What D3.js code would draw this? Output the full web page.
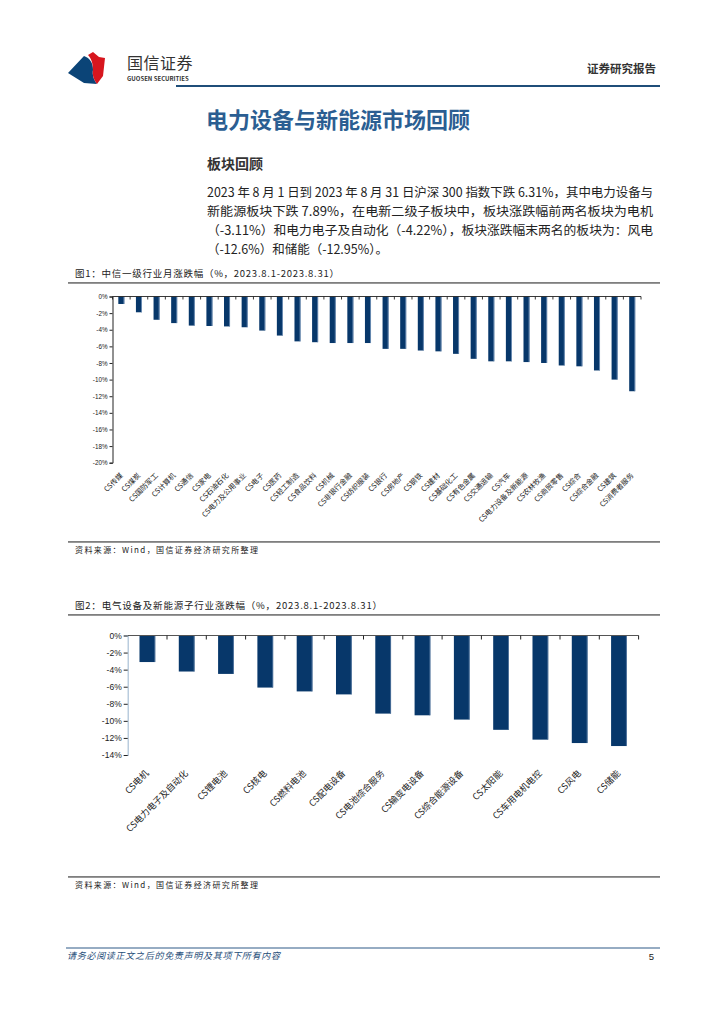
<!DOCTYPE html>
<html><head><meta charset="utf-8">
<script src="https://cdn.jsdelivr.net/npm/d3@7/dist/d3.min.js"></script>
<style>
html,body{margin:0;padding:0;background:#fff;}
svg{display:block;font-family:"Noto Sans CJK SC","Noto Sans",sans-serif;}
</style></head>
<body>
<svg id="c" width="724" height="1024"></svg>
<script>
// ---- data ----
const cat1 = ["CS传媒","CS煤炭","CS国防军工","CS计算机","CS通信","CS家电","CS石油石化","CS电力及公用事业","CS电子","CS医药","CS轻工制造","CS食品饮料","CS机械","CS非银行金融","CS纺织服装","CS银行","CS房地产","CS钢铁","CS建材","CS基础化工","CS有色金属","CS交通运输","CS汽车","CS电力设备及新能源","CS农林牧渔","CS商贸零售","CS综合","CS综合金融","CS建筑","CS消费者服务"];
const val1 = [-0.9,-1.9,-2.8,-3.2,-3.5,-3.55,-3.6,-3.7,-4.1,-4.7,-5.4,-5.5,-5.6,-5.6,-5.6,-6.3,-6.3,-6.5,-6.6,-6.9,-7.5,-7.8,-7.8,-7.89,-8.0,-8.3,-8.4,-8.9,-10.0,-11.4];
const yTicks1 = [0,-2,-4,-6,-8,-10,-12,-14,-16,-18,-20];

const cat2 = ["CS电机","CS电力电子及自动化","CS锂电池","CS核电","CS燃料电池","CS配电设备","CS电池综合服务","CS输变电设备","CS综合能源设备","CS太阳能","CS车用电机电控","CS风电","CS储能"];
const val2 = [-3.11,-4.22,-4.5,-6.1,-6.55,-6.9,-9.15,-9.35,-9.85,-11.05,-12.2,-12.6,-12.95];
const yTicks2 = [0,-2,-4,-6,-8,-10,-12,-14];

const paragraph = [
  "2023 年 8 月 1 日到 2023 年 8 月 31 日沪深 300 指数下跌 6.31%，其中电力设备与",
  "新能源板块下跌 7.89%，在电新二级子板块中，板块涨跌幅前两名板块为电机",
  "（-3.11%）和电力电子及自动化（-4.22%），板块涨跌幅末两名的板块为：风电",
  "（-12.6%）和储能（-12.95%）。"
];

const svg = d3.select("#c");
const BAR = "#07376a";

// ---- header ----
svg.append("path").attr("d","M68,73 L84,56 C90,58 93,63 93,70 C92,75 94,80 97,84 L84,83 Z").attr("fill","#0b4477");
svg.append("path").attr("d","M88,55 L93,52 L99,57 L105,58 L103,76 L97,84 C94,80 92,75 93,70 C93,63 91,58 88,55 Z").attr("fill","#d7161e");
svg.append("text").attr("x",127).attr("y",69).attr("font-size",16).attr("fill","#333").attr("letter-spacing",0.5).text("国信证券");
svg.append("text").attr("x",127).attr("y",81).attr("font-size",6).attr("font-weight","bold").attr("fill","#333").text("GUOSEN SECURITIES");
svg.append("rect").attr("x",176).attr("y",85).attr("width",484).attr("height",2).attr("fill","#1f4e79");
svg.append("text").attr("x",656).attr("y",73).attr("text-anchor","end").attr("font-size",11.5).attr("font-weight","bold").attr("fill","#333").text("证券研究报告");

// ---- titles & paragraph ----
svg.append("text").attr("x",206).attr("y",128).attr("font-size",22).attr("font-weight","bold").attr("fill","#2b5e92").text("电力设备与新能源市场回顾");
svg.append("text").attr("x",207).attr("y",169).attr("font-size",14).attr("font-weight","bold").attr("fill","#333").text("板块回顾");
paragraph.forEach((t,i)=>{
  const tx = svg.append("text").attr("x",207).attr("y",197+i*19).attr("font-size",12.5).attr("fill","#222").text(t);
  if(i<3) tx.attr("textLength",446).attr("lengthAdjust","spacingAndGlyphs");
});

// ---- chart frame helper ----
function frame(title, titleLen, yTitle, yLine, ySrcLine){
  svg.append("text").attr("x",75).attr("y",yTitle).attr("font-size",9.5).attr("fill","#222")
    .attr("textLength",titleLen).attr("lengthAdjust","spacing").text(title);
  svg.append("rect").attr("x",68).attr("y",yLine).attr("width",592).attr("height",1.8).attr("fill","#7f7f7f");
  svg.append("rect").attr("x",68).attr("y",ySrcLine).attr("width",592).attr("height",1.8).attr("fill","#7f7f7f");
  svg.append("text").attr("x",75).attr("y",ySrcLine+12).attr("font-size",8).attr("fill","#222")
    .attr("textLength",183).attr("lengthAdjust","spacing").text("资料来源：Wind，国信证券经济研究所整理");
}

// ---- chart 1 ----
frame("图1：中信一级行业月涨跌幅（%，2023.8.1-2023.8.31）", 264, 277, 282, 541);
{
  const x = d3.scaleBand().domain(cat1).range([112.5,641]).paddingInner(0.66).paddingOuter(0.33);
  const y = d3.scaleLinear().domain([0,-20]).range([296.5,462.7]);
  const g = svg.append("g");
  g.selectAll("rect.b").data(cat1).join("rect").attr("class","b")
    .attr("x",d=>x(d)).attr("width",x.bandwidth())
    .attr("y",y(0)).attr("height",(d,i)=>y(val1[i])-y(0)).attr("fill",BAR);
  g.selectAll("line.e").data(cat1).join("line").attr("class","e")
    .attr("x1",d=>x(d)+x.bandwidth()-0.4).attr("x2",d=>x(d)+x.bandwidth()-0.4)
    .attr("y1",y(0)).attr("y2",(d,i)=>y(val1[i])).attr("stroke","#7d9cc0").attr("stroke-width",0.8);
  const ya = g.append("g").attr("transform","translate(112.5,0)")
    .call(d3.axisLeft(y).tickValues(yTicks1).tickFormat(d=>d+"%").tickSize(3).tickPadding(2));
  ya.select(".domain").attr("stroke","#222");
  ya.selectAll(".tick line").attr("stroke","#222");
  ya.selectAll("text").attr("font-size",6.3).attr("fill","#222").attr("font-family","Liberation Sans, Arial");
  const x0 = x.range()[0], st = x.step();
  g.append("line").attr("x1",x0).attr("x2",x0+st*cat1.length).attr("y1",y(0)).attr("y2",y(0)).attr("stroke","#222").attr("stroke-width",0.9);
  g.selectAll("line.t").data(d3.range(cat1.length+1)).join("line").attr("class","t")
    .attr("x1",i=>x0+i*st).attr("x2",i=>x0+i*st).attr("y1",y(0)).attr("y2",y(0)+3).attr("stroke","#222").attr("stroke-width",0.9);
  g.selectAll("text.xl").data(cat1).join("text").attr("class","xl")
    .attr("transform",d=>`translate(${x(d)+x.bandwidth()/2+2},476) rotate(-45)`)
    .attr("text-anchor","end").attr("font-size",7.2).attr("fill","#222").text(d=>d);
}

// ---- chart 2 ----
frame("图2：电气设备及新能源子行业涨跌幅（%，2023.8.1-2023.8.31）", 307, 609, 614, 876);
{
  const x = d3.scaleBand().domain(cat2).range([127.7,638.6]).paddingInner(0.6).paddingOuter(0.3);
  const y = d3.scaleLinear().domain([0,-14]).range([635.5,755]);
  const g = svg.append("g");
  const ya = g.append("g").attr("transform","translate(127.7,0)")
    .call(d3.axisLeft(y).tickValues(yTicks2).tickFormat(d=>d+"%").tickSize(4).tickPadding(2));
  ya.select(".domain").attr("stroke","#a9c0d6").attr("stroke-width",1.2);
  ya.selectAll(".tick line").attr("stroke","#222");
  ya.selectAll("text").attr("font-size",8.5).attr("fill","#222").attr("font-family","Liberation Sans, Arial");
  g.selectAll("rect.b").data(cat2).join("rect").attr("class","b")
    .attr("x",d=>x(d)).attr("width",x.bandwidth())
    .attr("y",y(0)).attr("height",(d,i)=>y(val2[i])-y(0)).attr("fill",BAR);
  g.selectAll("line.e").data(cat2).join("line").attr("class","e")
    .attr("x1",d=>x(d)+x.bandwidth()-0.4).attr("x2",d=>x(d)+x.bandwidth()-0.4)
    .attr("y1",y(0)).attr("y2",(d,i)=>y(val2[i])).attr("stroke","#5d7fa6").attr("stroke-width",0.8);
  const x0 = x.range()[0], st = x.step();
  g.append("line").attr("x1",x0).attr("x2",x0+st*cat2.length).attr("y1",y(0)).attr("y2",y(0)).attr("stroke","#555").attr("stroke-width",1);
  g.selectAll("line.t").data(d3.range(1,cat2.length+1)).join("line").attr("class","t")
    .attr("x1",i=>x0+i*st).attr("x2",i=>x0+i*st).attr("y1",y(0)).attr("y2",y(0)+4).attr("stroke","#222").attr("stroke-width",1);
  g.selectAll("text.xl").data(cat2).join("text").attr("class","xl")
    .attr("transform",d=>`translate(${x(d)+x.bandwidth()/2+2},774) rotate(-45)`)
    .attr("text-anchor","end").attr("font-size",9).attr("fill","#222").text(d=>d);
}

// ---- footer ----
svg.append("rect").attr("x",66).attr("y",947.5).attr("width",594).attr("height",1).attr("fill","#2e5b87");
svg.append("text").attr("x",67).attr("y",959).attr("font-size",9).attr("font-style","italic").attr("fill","#1f4e79")
  .attr("textLength",213).attr("lengthAdjust","spacing").text("请务必阅读正文之后的免责声明及其项下所有内容");
svg.append("text").attr("x",654).attr("y",960).attr("text-anchor","end").attr("font-size",9.5).attr("fill","#222").attr("font-family","Liberation Sans, Arial").text("5");
</script>
</body></html>
